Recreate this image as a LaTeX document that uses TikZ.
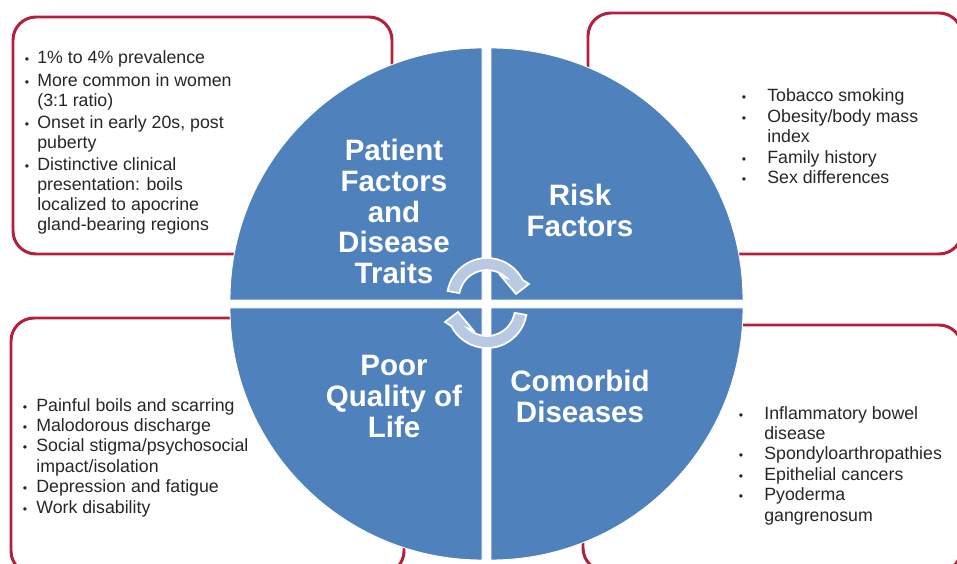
\documentclass[tikz,border=0pt]{standalone}
\usepackage{fontspec}
\setmainfont{Liberation Sans}
\definecolor{quadblue}{RGB}{79,129,189}
\definecolor{boxred}{RGB}{180,32,60}
\definecolor{cyclefill}{RGB}{185,201,226}
\definecolor{listgrey}{RGB}{38,38,38}
% small bullet in a box of given width, and the matching indent
\newcommand{\bul}[1]{\makebox[#1][l]{\fontsize{7}{7}\selectfont •}}
\newcommand{\ind}[1]{\hspace*{#1}}
\tikzset{
    %Define style for the red frames
    redbox/.style={
           draw=boxred,
           line width=1.7pt,
           rounded corners=0.46cm},
    %Define style for the four pieces
    quarter/.style={
           fill=quadblue,
           draw=white,
           line width=0.5pt},
    %Define style for the titles
    quadtitle/.style={
           text=white,
           font=\bfseries\fontsize{16.8}{17.5}\selectfont,
           align=center,
           inner sep=0pt},
    %Define style for the lists
    liste/.style={
           text=listgrey,
           font=\fontsize{10.1}{11.65}\selectfont,
           align=left,
           inner sep=0pt,
           anchor=north west},
    % Define style for the cycle arrows
    cyc/.style={
           fill=cyclefill,
           draw=white,
           line width=1pt}
}

\begin{document}
\begin{tikzpicture}[x=0.02cm, y=-0.02cm]
 \useasboundingbox (0,0) rectangle (957,564);
 \clip (0,0) rectangle (957,564);
 %frames
 \draw[redbox] (13,17) rectangle (392,254);
 \draw[redbox] (588,13) rectangle (962,254);
 \draw[redbox] (11,318) rectangle (404,574);
 \draw[redbox] (583,325) rectangle (962,571);
 %pieces
 \filldraw[quarter] (482,300) -- (230,300) arc[start angle=180, end angle=270, radius=252] -- cycle;
 \filldraw[quarter] (491,300) -- (491,48) arc[start angle=270, end angle=360, radius=252] -- cycle;
 \filldraw[quarter] (491,308) -- (743,308) arc[start angle=0, end angle=90, radius=252] -- cycle;
 \filldraw[quarter] (482,308) -- (482,560) arc[start angle=90, end angle=180, radius=252] -- cycle;
 %cycle arrows
 \filldraw[cyc] ([shift={(190:40)}]487,298) arc[start angle=190, end angle=333, radius=40]
   -- (529,284) -- (516,294) -- (501,276)
   -- ([shift={(314:28)}]487,298) arc[start angle=314, end angle=190, radius=28] -- cycle;
 \filldraw[cyc, rotate around={180:(487,303)}] ([shift={(190:40)}]487,298) arc[start angle=190, end angle=333, radius=40]
   -- (529,284) -- (516,294) -- (501,276)
   -- ([shift={(314:28)}]487,298) arc[start angle=314, end angle=190, radius=28] -- cycle;
 %titles
 \node[quadtitle] (patient) at (394,211.7) {Patient\\Factors\\and\\Disease\\Traits};
 \node[quadtitle] (risk) at (580,210.5) {Risk\\Factors};
 \node[quadtitle] (quality) at (394,396.5) {Poor\\Quality of\\Life};
 \node[quadtitle] (comorbid) at (580,396.5) {Comorbid\\Diseases};
 %lists
 \node[liste, font=\fontsize{10.1}{11.38}\selectfont] (patlist) at (24.5,50) {%
   \bul{0.25cm}1\% to 4\% prevalence\\[1.9pt]
   \bul{0.25cm}More common in women\\
   \ind{0.25cm}(3:1 ratio)\\[1pt]
   \bul{0.25cm}Onset in early 20s, post\\
   \ind{0.25cm}puberty\\[1pt]
   \bul{0.25cm}Distinctive clinical\\
   \ind{0.25cm}presentation: boils\\
   \ind{0.25cm}localized to apocrine\\
   \ind{0.25cm}gland-bearing regions};
 \node[liste] (risklist) at (741.5,88.7) {%
   \bul{0.51cm}Tobacco smoking\\
   \bul{0.51cm}Obesity/body mass\\
   \ind{0.51cm}index\\
   \bul{0.51cm}Family history\\
   \bul{0.51cm}Sex differences};
 \node[liste] (qualitylist) at (22.5,397.8) {%
   \bul{0.27cm}Painful boils and scarring\\
   \bul{0.27cm}Malodorous discharge\\
   \bul{0.27cm}Social stigma/psychosocial\\
   \ind{0.27cm}impact/isolation\\
   \bul{0.27cm}Depression and fatigue\\
   \bul{0.27cm}Work disability};
 \node[liste] (comorbidlist) at (738.5,405.8) {%
   \bul{0.51cm}Inflammatory bowel\\
   \ind{0.51cm}disease\\
   \bul{0.51cm}Spondyloarthropathies\\
   \bul{0.51cm}Epithelial cancers\\
   \bul{0.51cm}Pyoderma\\
   \ind{0.51cm}gangrenosum};
\end{tikzpicture}
\end{document}
